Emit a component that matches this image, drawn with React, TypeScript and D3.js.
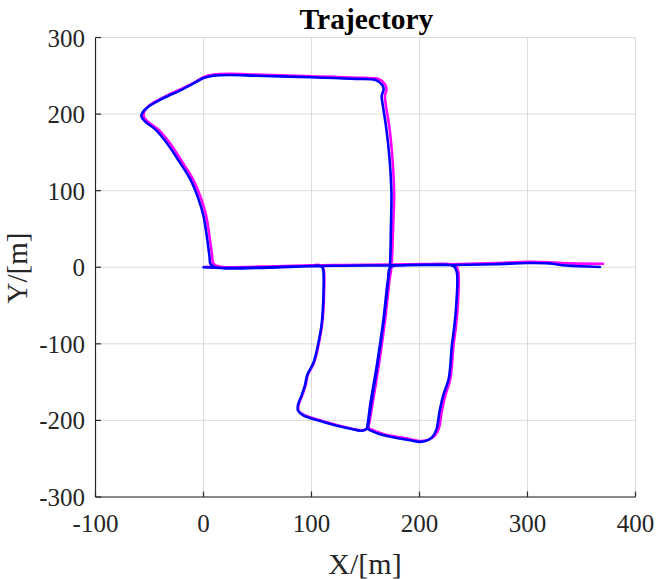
import React from 'react';
import * as d3 from 'd3';

const title = 'Trajectory';
const xLabel = 'X/[m]';
const yLabel = 'Y/[m]';
const xTicks = [-100, 0, 100, 200, 300, 400];
const yTicks = [-300, -200, -100, 0, 100, 200, 300];

// estimated trajectory (blue)
const blueTrack: [number, number][] = [
  [0, 0], [20, -1], [60, 0], [100, 1.5], [107, 2], [110, 0], [111, -5], [111, -40], [109.6, -72],
  [106.5, -98], [102, -124], [96, -141], [94, -154], [91, -167], [87.5, -180], [87.5, -187],
  [92, -193], [111, -202], [136, -211], [146.5, -213.5], [151, -211],
  [152, -205], [154.3, -180], [160.5, -128], [166.7, -67], [170.4, -20], [172.5, 0],
  [173.5, 50], [174, 97], [172.3, 141], [169, 184], [166.2, 210], [165, 224], [166.8, 232],
  [165.5, 238], [160, 244], [141.5, 246], [100, 248], [49, 250], [24.6, 251], [9.2, 250],
  [0, 247], [-9.2, 240], [-21.5, 231], [-36.9, 221], [-50.8, 210], [-56, 203], [-57.5, 197],
  [-53.8, 190], [-44.6, 180], [-33.8, 162], [-21.5, 136], [-12.3, 115], [-4.6, 89], [0, 67],
  [3, 41], [5.5, 15], [6.5, 4], [10, 0.5], [20, -1.5], [60, -0.5], [100, 1.5], [130, 2],
  [172, 2.5], [200, 3], [228, 3], [232, 1], [234.6, -6.5], [234, -50], [232, -80], [230, -102],
  [227, -146], [222, -167], [218.5, -189], [215.4, -213], [210, -224], [200.6, -228],
  [191.4, -226], [166.7, -219.5], [156, -214], [152.5, -211],
  [153, -200], [155, -180], [161, -128], [167, -67], [170.8, -20], [173, 0],
  [185, 2.5], [232, 3], [270, 4], [300, 5.5], [320, 5], [336, 2.2], [367, 0.4],
];

// ground truth trajectory (magenta)
const magentaTrack: [number, number][] = [
  [2, 0.5], [20, 0], [60, 1], [100, 2.5], [107, 3], [110.5, 0], [111.5, -5], [111.5, -40],
  [110, -72], [107, -98], [102.5, -124], [96.5, -141], [94.5, -154], [91.5, -167], [88, -180],
  [88, -187], [92.5, -192.5], [111.5, -201.5], [136.5, -210.5], [147, -213], [151.5, -210.5],
  [153, -205], [155.5, -180], [161.8, -128], [168, -67], [171.8, -20], [174, 0],
  [175.5, 50], [176.5, 97], [175, 141], [172, 184], [169, 210], [168, 224], [169.5, 232],
  [168, 239], [162.5, 245.5], [141.5, 247.5], [100, 249.5], [49, 251.5], [24.6, 252.5],
  [9.2, 251.5], [0.5, 248.5], [-8.5, 241.5], [-21, 232.5], [-36.2, 222.5], [-50, 211.5],
  [-54.5, 204], [-55.5, 197.5], [-51.5, 190], [-42, 180], [-31, 162], [-19, 136], [-9.8, 115],
  [-2, 89], [2.5, 67], [5.5, 41], [8, 15], [9, 5], [13, 1.5], [20, 0], [60, 0.5], [100, 2.5],
  [130, 3], [172, 3.5], [200, 4], [229, 4], [234, 1.5], [236, -6.5], [235.5, -50], [233.5, -80],
  [231.5, -102], [228.5, -146], [224, -167], [220.5, -189], [217.5, -212], [211.5, -223],
  [201, -227], [191.5, -224.5], [167, -218], [156.5, -212.5], [153, -210],
  [154, -200], [156.3, -180], [162.3, -128], [168.3, -67], [172, -20], [174, 0],
  [185, 3.5], [232, 4], [270, 5.5], [300, 7], [320, 6.5], [340, 5], [370, 4.5],
];

const W = 661;
const H = 579;
const L = 95.5, R = 635.5, T = 37.5, B = 497;
const FONT = '"Liberation Serif", "Times New Roman", serif';
const AX = '#262626';

export default function App() {
  const x = d3.scaleLinear().domain([-100, 400]).range([L, R]);
  const y = d3.scaleLinear().domain([-300, 300]).range([B, T]);
  const line = d3.line<[number, number]>().x(d => x(d[0])).y(d => y(d[1])).curve(d3.curveCatmullRom.alpha(0.5));

  return (
    <svg width={W} height={H} style={{ position: 'absolute', left: 0, top: 0, background: '#fff' }}>
      <rect x={0} y={0} width={W} height={H} fill="#fff" />
      {xTicks.map(t => (
        <line key={'gx' + t} x1={x(t)} x2={x(t)} y1={T} y2={B} stroke="#dcdcdc" strokeWidth={1} />
      ))}
      {yTicks.map(t => (
        <line key={'gy' + t} x1={L} x2={R} y1={y(t)} y2={y(t)} stroke="#dcdcdc" strokeWidth={1} />
      ))}
      <path d={line(magentaTrack) || ''} fill="none" stroke="#ff00ff" strokeWidth={2.6} strokeLinejoin="round" strokeLinecap="round" />
      <path d={line(blueTrack) || ''} fill="none" stroke="#0000ff" strokeWidth={2.6} strokeLinejoin="round" strokeLinecap="round" />
      <line x1={L} x2={L} y1={T} y2={B} stroke={AX} strokeWidth={1.2} />
      <line x1={L} x2={R} y1={B} y2={B} stroke={AX} strokeWidth={1.2} />
      {xTicks.map(t => (
        <g key={'xt' + t}>
          <line x1={x(t)} x2={x(t)} y1={B} y2={B - 5.5} stroke={AX} strokeWidth={1.2} />
          <text x={x(t)} y={532} textAnchor="middle" fontFamily={FONT} fontSize={25} fill={AX}>{t}</text>
        </g>
      ))}
      {yTicks.map(t => (
        <g key={'yt' + t}>
          <line x1={L} x2={L + 5.5} y1={y(t)} y2={y(t)} stroke={AX} strokeWidth={1.2} />
          <text x={85} y={y(t) + 9} textAnchor="end" fontFamily={FONT} fontSize={25} fill={AX}>{t}</text>
        </g>
      ))}
      <text x={365} y={574} textAnchor="middle" fontFamily={FONT} fontSize={30} fill={AX}>{xLabel}</text>
      <text transform={`translate(27, 268) rotate(-90)`} textAnchor="middle" fontFamily={FONT} fontSize={29} fill={AX}>{yLabel}</text>
      <text x={366.5} y={28.5} textAnchor="middle" fontFamily={FONT} fontSize={29.5} fontWeight="bold" fill="#000">{title}</text>
    </svg>
  );
}
